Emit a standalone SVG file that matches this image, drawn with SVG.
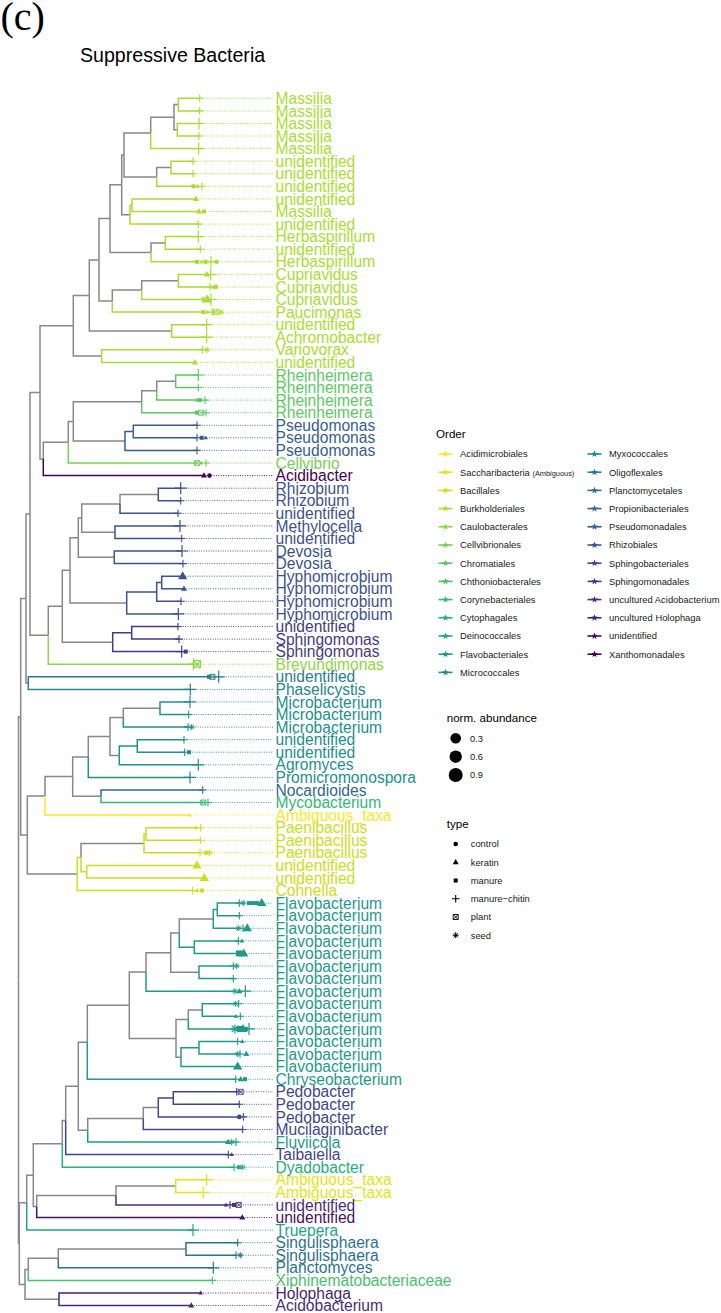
<svg xmlns="http://www.w3.org/2000/svg" xmlns:xlink="http://www.w3.org/1999/xlink" width="721" height="1313" viewBox="0 0 721 1313">
<style>
text{font-family:"Liberation Sans",Arial,sans-serif}
.l{font-size:15.6px;fill:currentColor}
.e{fill:none;stroke:currentColor;stroke-width:1.5}
.d{fill:none;stroke:currentColor;stroke-width:0.9;stroke-dasharray:1 1.4}
.lg{font-size:9.4px;fill:#1a1a1a}
.lt{font-size:11.6px;fill:#000}
.gr{color:#888888}
.acid{color:#FDE725}.sacc{color:#E3E418}.baci{color:#C7E020}.burk{color:#AADC32}.caul{color:#8FD744}.cellv{color:#75D054}.chrom{color:#5DC863}.chth{color:#47C16E}.cory{color:#35B779}.cyto{color:#27AD81}.dein{color:#20A486}.flavo{color:#1F9A8A}.micro{color:#21908C}.myxo{color:#24868E}.olig{color:#287C8E}.planc{color:#2C728E}.prop{color:#31688E}.pseu{color:#365D8D}.rhiz{color:#3B528B}.sphb{color:#404688}.sphm{color:#443A83}.uacid{color:#472D7B}.uholo{color:#481F70}.unid{color:#471164}.xan{color:#440154}
</style>
<defs>
<path id="p" d="M-3.8 0H3.8M0-3.8V3.8" fill="none" stroke="currentColor" stroke-width="1.1"/>
<path id="P" d="M-6 0H6M0-6V6" fill="none" stroke="currentColor" stroke-width="1.2"/>
<path id="t" d="M0-3.3L3 2H-3Z" fill="currentColor"/>
<path id="T" d="M0-5L4.6 3H-4.6Z" fill="currentColor"/>
<path id="u" d="M0-2.4L2.2 1.5H-2.2Z" fill="currentColor"/>
<rect id="s" x="-2" y="-2" width="4" height="4" fill="currentColor"/>
<rect id="S" x="-3" y="-3" width="6" height="6" fill="currentColor"/>
<circle id="c" r="2.3" fill="currentColor"/>
<path id="x" d="M-2.5-2.5h5v5h-5zM-2.5-2.5l5 5M2.5-2.5l-5 5" fill="none" stroke="currentColor" stroke-width="0.9"/>
<path id="X" d="M-3.6-3.6h7.2v7.2h-7.2zM-3.6-3.6l7.2 7.2M3.6-3.6l-7.2 7.2" fill="none" stroke="currentColor" stroke-width="1.1"/>
<path id="a" d="M-3 0H3M0-3V3M-2.1-2.1L2.1 2.1M-2.1 2.1L2.1-2.1" fill="none" stroke="currentColor" stroke-width="1"/>
<path id="A" d="M-4.5 0H4.5M0-4.5V4.5M-3.2-3.2L3.2 3.2M-3.2 3.2L3.2-3.2" fill="none" stroke="currentColor" stroke-width="1.2"/>
<g id="k"><path d="M-7 0H7" stroke="currentColor" stroke-width="1.6"/><path d="M0-3.6L.88-1.21 3.42-1.11 1.43.46 2.12 2.91 0 1.5-2.12 2.91-1.43.46-3.42-1.11-.88-1.21Z" fill="currentColor"/></g>
</defs>
<rect width="721" height="1313" fill="#fff"/>
<text x="0.5" y="30" style="font-family:'Liberation Serif','Times New Roman',serif;font-size:40px" fill="#000">(c)</text>
<text x="80" y="62" style="font-size:19.6px" fill="#000">Suppressive Bacteria</text>

<g id="connectors">
<g id="edges">
<path class="e gr" d="M18.5 980.2V716.8H20.7"/>
<path class="e gr" d="M18.5 980.2V1243.5H19.3"/>
<path class="e gr" d="M19.3 1243.5V1202.7H26.7"/>
<path class="e gr" d="M19.3 1243.5V1284.4H25"/>
<path class="e gr" d="M20.7 716.8V598.5H26"/>
<path class="e gr" d="M20.7 716.8V835H27.3"/>
<path class="e gr" d="M26 598.5V513.9H30"/>
<path class="e gr" d="M26 598.5V683.1H28.3"/>
<path class="e gr" d="M30 513.9V392.4H40"/>
<path class="e gr" d="M30 513.9V635.3H48.3"/>
<path class="e gr" d="M40 392.4V325.8H73.3"/>
<path class="e gr" d="M40 392.4V458.9H43.3"/>
<path class="e gr" d="M73.3 325.8V295.4H89.3"/>
<path class="e gr" d="M73.3 325.8V356.1H101.7"/>
<path class="e gr" d="M89.3 295.4V259.9H99"/>
<path class="e gr" d="M89.3 295.4V331H171.7"/>
<path class="e gr" d="M99 259.9V218.6H110"/>
<path class="e gr" d="M99 259.9V301.1H112.3"/>
<path class="e gr" d="M110 218.6V184.8H121.7"/>
<path class="e gr" d="M110 218.6V252.4H151"/>
<path class="e gr" d="M121.7 184.8V154.9H124"/>
<path class="e gr" d="M121.7 184.8V214.7H130"/>
<path class="e gr" d="M124 154.9V132.9H150.7"/>
<path class="e gr" d="M124 154.9V176.9H156.7"/>
<path class="e gr" d="M150.7 132.9V117.2H174"/>
<path class="e burk" d="M150.7 132.9V148.6H198.7"/>
<path class="e gr" d="M174 117.2V104.6H178.3"/>
<path class="e gr" d="M174 117.2V129.75H177.3"/>
<path class="e burk" d="M178.3 104.6V98.3H199.7"/>
<path class="e burk" d="M178.3 104.6V110.9H199.7"/>
<path class="e burk" d="M177.3 129.75V123.5H199"/>
<path class="e burk" d="M177.3 129.75V136H199"/>
<path class="e gr" d="M156.7 176.9V167.5H171"/>
<path class="e burk" d="M156.7 176.9V186.3H193.5"/>
<path class="e burk" d="M171 167.5V161.2H193"/>
<path class="e burk" d="M171 167.5V173.8H193"/>
<path class="e burk" d="M130 214.7V205.2H132"/>
<path class="e burk" d="M130 214.7V224.1H198.3"/>
<path class="e burk" d="M132 205.2V198.9H196"/>
<path class="e burk" d="M132 205.2V211.5H199"/>
<path class="e gr" d="M151 252.4V242.9H165.3"/>
<path class="e burk" d="M151 252.4V261.8H197"/>
<path class="e burk" d="M165.3 242.9V236.6H198.3"/>
<path class="e burk" d="M165.3 242.9V249.2H200.3"/>
<path class="e gr" d="M112.3 301.1V290.1H141.7"/>
<path class="e burk" d="M112.3 301.1V312.1H203.3"/>
<path class="e gr" d="M141.7 290.1V280.65H178.3"/>
<path class="e burk" d="M141.7 290.1V299.5H203.5"/>
<path class="e burk" d="M178.3 280.65V274.4H207"/>
<path class="e burk" d="M178.3 280.65V286.9H210"/>
<path class="e burk" d="M171.7 331V324.7H206.7"/>
<path class="e burk" d="M171.7 331V337.2H206.7"/>
<path class="e burk" d="M101.7 356.1V349.8H202.3"/>
<path class="e burk" d="M101.7 356.1V362.4H195"/>
<path class="e gr" d="M43.3 458.9V442.2H68.3"/>
<path class="e xan" d="M43.3 458.9V475.6H204"/>
<path class="e gr" d="M68.3 442.2V421.4H73.3"/>
<path class="e cellv" d="M68.3 442.2V463H197"/>
<path class="e gr" d="M73.3 421.4V401.7H141.7"/>
<path class="e gr" d="M73.3 421.4V441.1H125"/>
<path class="e gr" d="M141.7 401.7V390.7H156.7"/>
<path class="e chrom" d="M141.7 401.7V412.7H197"/>
<path class="e gr" d="M156.7 390.7V381.25H175.7"/>
<path class="e chrom" d="M156.7 390.7V400.1H196.7"/>
<path class="e chrom" d="M175.7 381.25V375H198.3"/>
<path class="e chrom" d="M175.7 381.25V387.5H198.3"/>
<path class="e pseu" d="M125 441.1V431.55H133.3"/>
<path class="e pseu" d="M125 441.1V450.4H197"/>
<path class="e pseu" d="M133.3 431.55V425.3H197"/>
<path class="e pseu" d="M133.3 431.55V437.8H197"/>
<path class="e gr" d="M48.3 635.3V606.3H62.3"/>
<path class="e caul" d="M48.3 635.3V664.2H193.5"/>
<path class="e gr" d="M62.3 606.3V570.3H70"/>
<path class="e gr" d="M62.3 606.3V642.2H112.7"/>
<path class="e gr" d="M70 570.3V537.7H78.3"/>
<path class="e gr" d="M70 570.3V602.9H126.7"/>
<path class="e gr" d="M78.3 537.7V518.1H81.7"/>
<path class="e gr" d="M78.3 537.7V557.3H114.3"/>
<path class="e gr" d="M81.7 518.1V503.9H120"/>
<path class="e gr" d="M81.7 518.1V532.2H115"/>
<path class="e gr" d="M120 503.9V494.45H158.3"/>
<path class="e rhiz" d="M120 503.9V513.3H178"/>
<path class="e rhiz" d="M158.3 494.45V488.2H180.7"/>
<path class="e rhiz" d="M158.3 494.45V500.7H180.7"/>
<path class="e rhiz" d="M115 532.2V525.9H180"/>
<path class="e rhiz" d="M115 532.2V538.5H181.7"/>
<path class="e rhiz" d="M114.3 557.3V551H182"/>
<path class="e rhiz" d="M114.3 557.3V563.6H183"/>
<path class="e rhiz" d="M126.7 602.9V591.9H156.7"/>
<path class="e rhiz" d="M126.7 602.9V613.9H178.3"/>
<path class="e rhiz" d="M156.7 591.9V582.5H161.7"/>
<path class="e rhiz" d="M156.7 591.9V601.3H181"/>
<path class="e rhiz" d="M161.7 582.5V576.2H182.7"/>
<path class="e rhiz" d="M161.7 582.5V588.8H184"/>
<path class="e sphm" d="M112.7 642.2V632.8H131.7"/>
<path class="e sphm" d="M112.7 642.2V651.6H181.7"/>
<path class="e sphm" d="M131.7 632.8V626.5H178"/>
<path class="e sphm" d="M131.7 632.8V639.1H179"/>
<path class="e olig" d="M28.3 683.1V676.8H209"/>
<path class="e myxo" d="M28.3 683.1V689.4H190.3"/>
<path class="e gr" d="M27.3 835V795.9H45"/>
<path class="e gr" d="M27.3 835V874.1H77.3"/>
<path class="e gr" d="M45 795.9V776.6H72.7"/>
<path class="e acid" d="M45 795.9V815.1H190"/>
<path class="e gr" d="M72.7 776.6V757H88.3"/>
<path class="e gr" d="M72.7 776.6V796.25H101"/>
<path class="e gr" d="M88.3 757V736.6H110"/>
<path class="e micro" d="M88.3 757V777.4H190"/>
<path class="e gr" d="M110 736.6V717.6H123.3"/>
<path class="e gr" d="M110 736.6V755.4H119.3"/>
<path class="e gr" d="M123.3 717.6V708.2H160"/>
<path class="e micro" d="M123.3 717.6V727.1H188"/>
<path class="e micro" d="M160 708.2V701.9H190"/>
<path class="e micro" d="M160 708.2V714.5H188.7"/>
<path class="e micro" d="M119.3 755.4V745.95H137.3"/>
<path class="e micro" d="M119.3 755.4V764.8H198.3"/>
<path class="e micro" d="M137.3 745.95V739.7H184"/>
<path class="e micro" d="M137.3 745.95V752.2H184.7"/>
<path class="e prop" d="M101 796.25V790H202.7"/>
<path class="e cory" d="M101 796.25V802.5H203.3"/>
<path class="e baci" d="M77.3 874.1V857.55H81"/>
<path class="e baci" d="M77.3 874.1V890.6H192.7"/>
<path class="e gr" d="M81 857.55V843.4H144"/>
<path class="e baci" d="M81 857.55V871.7H86.7"/>
<path class="e baci" d="M144 843.4V834H146"/>
<path class="e baci" d="M144 843.4V852.8H200"/>
<path class="e baci" d="M146 834V827.7H196"/>
<path class="e baci" d="M146 834V840.3H200.3"/>
<path class="e baci" d="M86.7 871.7V865.4H197"/>
<path class="e baci" d="M86.7 871.7V878H204.3"/>
<path class="e gr" d="M26.7 1202.7V1175.2H33.3"/>
<path class="e dein" d="M26.7 1202.7V1230.1H193"/>
<path class="e gr" d="M33.3 1175.2V1143.8H62.3"/>
<path class="e gr" d="M33.3 1175.2V1206.5H36.7"/>
<path class="e gr" d="M36.7 1206.5V1195.5H116"/>
<path class="e unid" d="M36.7 1206.5V1217.5H242.3"/>
<path class="e gr" d="M116 1195.5V1186.1H175.7"/>
<path class="e uacid" d="M116 1195.5V1204.9H226"/>
<path class="e sacc" d="M175.7 1186.1V1179.8H206.7"/>
<path class="e sacc" d="M175.7 1186.1V1192.4H203.3"/>
<path class="e gr" d="M62.3 1143.8V1120.5H65.7"/>
<path class="e cyto" d="M62.3 1143.8V1167.2H234"/>
<path class="e gr" d="M65.7 1120.5V1086.3H78.3"/>
<path class="e sphb" d="M65.7 1120.5V1154.6H228.3"/>
<path class="e gr" d="M78.3 1086.3V1042.2H87.3"/>
<path class="e gr" d="M78.3 1086.3V1130.3H87.7"/>
<path class="e gr" d="M87.3 1042.2V1005.2H129.3"/>
<path class="e flavo" d="M87.3 1042.2V1079.2H235.7"/>
<path class="e gr" d="M129.3 1005.2V972H146"/>
<path class="e gr" d="M129.3 1005.2V1038.4H176"/>
<path class="e gr" d="M146 972V952.7H170.7"/>
<path class="e flavo" d="M146 972V991.2H235"/>
<path class="e gr" d="M170.7 952.7V933H179.3"/>
<path class="e gr" d="M170.7 952.7V972.3H199"/>
<path class="e gr" d="M179.3 933V918.9H213.3"/>
<path class="e flavo" d="M179.3 933V947.15H194.3"/>
<path class="e flavo" d="M213.3 918.9V909.4H217.3"/>
<path class="e flavo" d="M213.3 918.9V928.3H238.7"/>
<path class="e flavo" d="M217.3 909.4V903.1H239.3"/>
<path class="e flavo" d="M217.3 909.4V915.7H239.3"/>
<path class="e flavo" d="M194.3 947.15V940.9H238.3"/>
<path class="e flavo" d="M194.3 947.15V953.4H239"/>
<path class="e flavo" d="M199 972.3V966H233.3"/>
<path class="e flavo" d="M199 972.3V978.6H233.3"/>
<path class="e gr" d="M176 1038.4V1019.5H188.3"/>
<path class="e gr" d="M176 1038.4V1057.2H181"/>
<path class="e gr" d="M188.3 1019.5V1010H202.3"/>
<path class="e flavo" d="M188.3 1019.5V1028.9H235"/>
<path class="e flavo" d="M202.3 1010V1003.7H235.7"/>
<path class="e flavo" d="M202.3 1010V1016.3H236"/>
<path class="e flavo" d="M181 1057.2V1047.75H199"/>
<path class="e flavo" d="M181 1057.2V1066.6H237.7"/>
<path class="e flavo" d="M199 1047.75V1041.5H237.7"/>
<path class="e flavo" d="M199 1047.75V1054H237.7"/>
<path class="e gr" d="M87.7 1130.3V1118.5H143.3"/>
<path class="e flavo" d="M87.7 1130.3V1142.1H228"/>
<path class="e gr" d="M143.3 1118.5V1107.5H158.3"/>
<path class="e sphb" d="M143.3 1118.5V1129.5H242.7"/>
<path class="e sphb" d="M158.3 1107.5V1098.05H173.3"/>
<path class="e sphb" d="M158.3 1107.5V1116.9H239.3"/>
<path class="e sphb" d="M173.3 1098.05V1091.8H236.7"/>
<path class="e sphb" d="M173.3 1098.05V1104.3H239.3"/>
<path class="e gr" d="M25 1284.4V1269.4H28.3"/>
<path class="e gr" d="M25 1284.4V1299.25H59"/>
<path class="e gr" d="M28.3 1269.4V1258.3H58.3"/>
<path class="e chth" d="M28.3 1269.4V1280.4H212.3"/>
<path class="e gr" d="M58.3 1258.3V1248.95H186"/>
<path class="e planc" d="M58.3 1258.3V1267.8H213.3"/>
<path class="e planc" d="M186 1248.95V1242.7H237.7"/>
<path class="e planc" d="M186 1248.95V1255.2H236"/>
<path class="e uholo" d="M59 1299.25V1293H200.7"/>
<path class="e uacid" d="M59 1299.25V1305.5H191.3"/>
</g>
<g id="leaders">
<path class="d burk" d="M199.7 98.3H273M199.7 110.9H273M199 123.5H273M199 136H273M198.7 148.6H273M193 161.2H273M193 173.8H273M193.5 186.3H273M196 198.9H273M199 211.5H273M198.3 224.1H273M198.3 236.6H273M200.3 249.2H273M197 261.8H273M207 274.4H273M210 286.9H273M203.5 299.5H273M203.3 312.1H273M206.7 324.7H273M206.7 337.2H273M202.3 349.8H273M195 362.4H273"/>
<path class="d chrom" d="M198.3 375H273M198.3 387.5H273M196.7 400.1H273M197 412.7H273"/>
<path class="d pseu" d="M197 425.3H273M197 437.8H273M197 450.4H273"/>
<path class="d cellv" d="M197 463H273"/>
<path class="d xan" d="M204 475.6H273"/>
<path class="d rhiz" d="M180.7 488.2H273M180.7 500.7H273M178 513.3H273M180 525.9H273M181.7 538.5H273M182 551H273M183 563.6H273M182.7 576.2H273M184 588.8H273M181 601.3H273M178.3 613.9H273"/>
<path class="d sphm" d="M178 626.5H273M179 639.1H273M181.7 651.6H273"/>
<path class="d caul" d="M193.5 664.2H273"/>
<path class="d olig" d="M209 676.8H273"/>
<path class="d myxo" d="M190.3 689.4H273"/>
<path class="d micro" d="M190 701.9H273M188.7 714.5H273M188 727.1H273M184 739.7H273M184.7 752.2H273M198.3 764.8H273M190 777.4H273"/>
<path class="d prop" d="M202.7 790H273"/>
<path class="d cory" d="M203.3 802.5H273"/>
<path class="d acid" d="M190 815.1H273"/>
<path class="d baci" d="M196 827.7H273M200.3 840.3H273M200 852.8H273M197 865.4H273M204.3 878H273M192.7 890.6H273"/>
<path class="d flavo" d="M239.3 903.1H273M239.3 915.7H273M238.7 928.3H273M238.3 940.9H273M239 953.4H273M233.3 966H273M233.3 978.6H273M235 991.2H273M235.7 1003.7H273M236 1016.3H273M235 1028.9H273M237.7 1041.5H273M237.7 1054H273M237.7 1066.6H273M235.7 1079.2H273M228 1142.1H273"/>
<path class="d sphb" d="M236.7 1091.8H273M239.3 1104.3H273M239.3 1116.9H273M242.7 1129.5H273M228.3 1154.6H273"/>
<path class="d cyto" d="M234 1167.2H273"/>
<path class="d sacc" d="M206.7 1179.8H273M203.3 1192.4H273"/>
<path class="d uacid" d="M226 1204.9H273M191.3 1305.5H273"/>
<path class="d unid" d="M242.3 1217.5H273"/>
<path class="d dein" d="M193 1230.1H273"/>
<path class="d planc" d="M237.7 1242.7H273M236 1255.2H273M213.3 1267.8H273"/>
<path class="d chth" d="M212.3 1280.4H273"/>
<path class="d uholo" d="M200.7 1293H273"/>
</g>
</g>

<g id="tips">
<g id="tip1" class="burk"><use href="#p" x="199.7" y="98.3"/><text class="l" x="275.5" y="103.9">Massilia</text></g>
<g id="tip2" class="burk"><use href="#p" x="199.7" y="110.9"/><text class="l" x="275.5" y="116.5">Massilia</text></g>
<g id="tip3" class="burk"><use href="#P" x="199" y="123.5"/><text class="l" x="275.5" y="129.1">Massilia</text></g>
<g id="tip4" class="burk"><use href="#p" x="199" y="136"/><text class="l" x="275.5" y="141.6">Massilia</text></g>
<g id="tip5" class="burk"><use href="#P" x="198.7" y="148.6"/><text class="l" x="275.5" y="154.2">Massilia</text></g>
<g id="tip6" class="burk"><use href="#p" x="193" y="161.2"/><text class="l" x="275.5" y="166.8">unidentified</text></g>
<g id="tip7" class="burk"><use href="#p" x="193" y="173.8"/><text class="l" x="275.5" y="179.4">unidentified</text></g>
<g id="tip8" class="burk"><use href="#s" x="193.5" y="186.3"/><use href="#u" x="197.5" y="186.3"/><use href="#p" x="202" y="186.3"/><text class="l" x="275.5" y="191.9">unidentified</text></g>
<g id="tip9" class="burk"><use href="#t" x="196" y="198.9"/><text class="l" x="275.5" y="204.5">unidentified</text></g>
<g id="tip10" class="burk"><use href="#t" x="199" y="211.5"/><use href="#s" x="204" y="211.5"/><text class="l" x="275.5" y="217.1">Massilia</text></g>
<g id="tip11" class="burk"><use href="#p" x="198.3" y="224.1"/><text class="l" x="275.5" y="229.7">unidentified</text></g>
<g id="tip12" class="burk"><use href="#P" x="198.3" y="236.6"/><text class="l" x="275.5" y="242.2">Herbaspirillum</text></g>
<g id="tip13" class="burk"><use href="#p" x="200.3" y="249.2"/><text class="l" x="275.5" y="254.8">unidentified</text></g>
<g id="tip14" class="burk"><use href="#s" x="197" y="261.8"/><use href="#u" x="201.5" y="261.8"/><use href="#s" x="205.5" y="261.8"/><use href="#P" x="211" y="261.8"/><use href="#c" x="216.5" y="261.8"/><text class="l" x="275.5" y="267.4">Herbaspirillum</text></g>
<g id="tip15" class="burk"><use href="#t" x="207" y="274.4"/><use href="#P" x="210.7" y="274.4"/><text class="l" x="275.5" y="280">Cupriavidus</text></g>
<g id="tip16" class="burk"><use href="#p" x="210" y="286.9"/><use href="#u" x="213" y="286.9"/><use href="#c" x="216" y="286.9"/><text class="l" x="275.5" y="292.5">Cupriavidus</text></g>
<g id="tip17" class="burk"><use href="#a" x="203.5" y="299.5"/><use href="#T" x="207.5" y="299.5"/><use href="#P" x="211" y="299.5"/><text class="l" x="275.5" y="305.1">Cupriavidus</text></g>
<g id="tip18" class="burk"><use href="#s" x="203.3" y="312.1"/><use href="#u" x="207" y="312.1"/><use href="#p" x="212.3" y="312.1"/><use href="#x" x="216" y="312.1"/><use href="#a" x="221" y="312.1"/><text class="l" x="275.5" y="317.7">Paucimonas</text></g>
<g id="tip19" class="burk"><use href="#P" x="206.7" y="324.7"/><text class="l" x="275.5" y="330.3">unidentified</text></g>
<g id="tip20" class="burk"><use href="#P" x="206.7" y="337.2"/><text class="l" x="275.5" y="342.8">Achromobacter</text></g>
<g id="tip21" class="burk"><use href="#p" x="202.3" y="349.8"/><use href="#a" x="207" y="349.8"/><text class="l" x="275.5" y="355.4">Variovorax</text></g>
<g id="tip22" class="burk"><use href="#t" x="195" y="362.4"/><text class="l" x="275.5" y="368">unidentified</text></g>
<g id="tip23" class="chrom"><use href="#P" x="198.3" y="375"/><text class="l" x="275.5" y="380.6">Rheinheimera</text></g>
<g id="tip24" class="chrom"><use href="#p" x="198.3" y="387.5"/><text class="l" x="275.5" y="393.1">Rheinheimera</text></g>
<g id="tip25" class="chrom"><use href="#u" x="196.7" y="400.1"/><use href="#s" x="199.8" y="400.1"/><use href="#p" x="205" y="400.1"/><text class="l" x="275.5" y="405.7">Rheinheimera</text></g>
<g id="tip26" class="chrom"><use href="#s" x="197" y="412.7"/><use href="#x" x="201" y="412.7"/><use href="#p" x="206" y="412.7"/><text class="l" x="275.5" y="418.3">Rheinheimera</text></g>
<g id="tip27" class="pseu"><use href="#p" x="197" y="425.3"/><text class="l" x="275.5" y="430.9">Pseudomonas</text></g>
<g id="tip28" class="pseu"><use href="#p" x="197" y="437.8"/><use href="#s" x="201.7" y="437.8"/><use href="#u" x="205.7" y="437.8"/><text class="l" x="275.5" y="443.4">Pseudomonas</text></g>
<g id="tip29" class="pseu"><use href="#p" x="197" y="450.4"/><text class="l" x="275.5" y="456">Pseudomonas</text></g>
<g id="tip30" class="cellv"><use href="#x" x="197" y="463"/><use href="#u" x="201" y="463"/><use href="#p" x="206" y="463"/><text class="l" x="275.5" y="468.6">Cellvibrio</text></g>
<g id="tip31" class="xan"><use href="#t" x="204" y="475.6"/><use href="#c" x="209.5" y="475.6"/><text class="l" x="275.5" y="481.2">Acidibacter</text></g>
<g id="tip32" class="rhiz"><use href="#P" x="180.7" y="488.2"/><text class="l" x="275.5" y="493.8">Rhizobium</text></g>
<g id="tip33" class="rhiz"><use href="#p" x="180.7" y="500.7"/><text class="l" x="275.5" y="506.3">Rhizobium</text></g>
<g id="tip34" class="rhiz"><use href="#p" x="178" y="513.3"/><text class="l" x="275.5" y="518.9">unidentified</text></g>
<g id="tip35" class="rhiz"><use href="#P" x="180" y="525.9"/><text class="l" x="275.5" y="531.5">Methylocella</text></g>
<g id="tip36" class="rhiz"><use href="#p" x="181.7" y="538.5"/><text class="l" x="275.5" y="544.1">unidentified</text></g>
<g id="tip37" class="rhiz"><use href="#P" x="182" y="551"/><text class="l" x="275.5" y="556.6">Devosia</text></g>
<g id="tip38" class="rhiz"><use href="#p" x="183" y="563.6"/><text class="l" x="275.5" y="569.2">Devosia</text></g>
<g id="tip39" class="rhiz"><use href="#T" x="182.7" y="576.2"/><text class="l" x="275.5" y="581.8">Hyphomicrobium</text></g>
<g id="tip40" class="rhiz"><use href="#t" x="184" y="588.8"/><text class="l" x="275.5" y="594.4">Hyphomicrobium</text></g>
<g id="tip41" class="rhiz"><use href="#p" x="181" y="601.3"/><text class="l" x="275.5" y="606.9">Hyphomicrobium</text></g>
<g id="tip42" class="rhiz"><use href="#P" x="178.3" y="613.9"/><text class="l" x="275.5" y="619.5">Hyphomicrobium</text></g>
<g id="tip43" class="sphm"><use href="#p" x="178" y="626.5"/><text class="l" x="275.5" y="632.1">unidentified</text></g>
<g id="tip44" class="sphm"><use href="#p" x="179" y="639.1"/><text class="l" x="275.5" y="644.7">Sphingomonas</text></g>
<g id="tip45" class="sphm"><use href="#P" x="181.7" y="651.6"/><use href="#s" x="185.7" y="651.6"/><text class="l" x="275.5" y="657.2">Sphingomonas</text></g>
<g id="tip46" class="caul"><use href="#P" x="193.5" y="664.2"/><use href="#X" x="197" y="664.2"/><text class="l" x="275.5" y="669.8">Brevundimonas</text></g>
<g id="tip47" class="olig"><use href="#s" x="209" y="676.8"/><use href="#x" x="212.5" y="676.8"/><use href="#P" x="218.7" y="676.8"/><text class="l" x="275.5" y="682.4">unidentified</text></g>
<g id="tip48" class="myxo"><use href="#P" x="190.3" y="689.4"/><text class="l" x="275.5" y="695">Phaselicystis</text></g>
<g id="tip49" class="micro"><use href="#P" x="190" y="701.9"/><text class="l" x="275.5" y="707.5">Microbacterium</text></g>
<g id="tip50" class="micro"><use href="#p" x="188.7" y="714.5"/><text class="l" x="275.5" y="720.1">Microbacterium</text></g>
<g id="tip51" class="micro"><use href="#p" x="188" y="727.1"/><use href="#a" x="191.7" y="727.1"/><text class="l" x="275.5" y="732.7">Microbacterium</text></g>
<g id="tip52" class="micro"><use href="#p" x="184" y="739.7"/><text class="l" x="275.5" y="745.3">unidentified</text></g>
<g id="tip53" class="micro"><use href="#p" x="184.7" y="752.2"/><use href="#s" x="189" y="752.2"/><text class="l" x="275.5" y="757.8">unidentified</text></g>
<g id="tip54" class="micro"><use href="#P" x="198.3" y="764.8"/><text class="l" x="275.5" y="770.4">Agromyces</text></g>
<g id="tip55" class="micro"><use href="#P" x="190" y="777.4"/><text class="l" x="275.5" y="783">Promicromonospora</text></g>
<g id="tip56" class="prop"><use href="#p" x="202.7" y="790"/><text class="l" x="275.5" y="795.6">Nocardioides</text></g>
<g id="tip57" class="cory"><use href="#x" x="203.3" y="802.5"/><use href="#p" x="208" y="802.5"/><text class="l" x="275.5" y="808.1">Mycobacterium</text></g>
<g id="tip58" class="acid"><use href="#u" x="190" y="815.1"/><text class="l" x="275.5" y="820.7">Ambiguous_taxa</text></g>
<g id="tip59" class="baci"><use href="#u" x="196" y="827.7"/><use href="#p" x="200.7" y="827.7"/><text class="l" x="275.5" y="833.3">Paenibacillus</text></g>
<g id="tip60" class="baci"><use href="#p" x="200.3" y="840.3"/><text class="l" x="275.5" y="845.9">Paenibacillus</text></g>
<g id="tip61" class="baci"><use href="#p" x="200" y="852.8"/><use href="#c" x="206" y="852.8"/><use href="#a" x="209.5" y="852.8"/><text class="l" x="275.5" y="858.4">Paenibacillus</text></g>
<g id="tip62" class="baci"><use href="#T" x="197" y="865.4"/><text class="l" x="275.5" y="871">unidentified</text></g>
<g id="tip63" class="baci"><use href="#T" x="204.3" y="878"/><text class="l" x="275.5" y="883.6">unidentified</text></g>
<g id="tip64" class="baci"><use href="#p" x="192.7" y="890.6"/><use href="#u" x="197.3" y="890.6"/><use href="#c" x="202" y="890.6"/><text class="l" x="275.5" y="896.2">Cohnella</text></g>
<g id="tip65" class="flavo"><use href="#p" x="239.3" y="903.1"/><use href="#a" x="243.3" y="903.1"/><use href="#s" x="249" y="903.1"/><use href="#s" x="253" y="903.1"/><use href="#s" x="257" y="903.1"/><use href="#T" x="261.7" y="903.1"/><text class="l" x="275.5" y="908.7">Flavobacterium</text></g>
<g id="tip66" class="flavo"><use href="#p" x="239.3" y="915.7"/><text class="l" x="275.5" y="921.3">Flavobacterium</text></g>
<g id="tip67" class="flavo"><use href="#a" x="238.7" y="928.3"/><use href="#p" x="243" y="928.3"/><use href="#T" x="247.3" y="928.3"/><text class="l" x="275.5" y="933.9">Flavobacterium</text></g>
<g id="tip68" class="flavo"><use href="#p" x="238.3" y="940.9"/><use href="#u" x="242" y="940.9"/><text class="l" x="275.5" y="946.5">Flavobacterium</text></g>
<g id="tip69" class="flavo"><use href="#S" x="239" y="953.4"/><use href="#T" x="243.7" y="953.4"/><text class="l" x="275.5" y="959">Flavobacterium</text></g>
<g id="tip70" class="flavo"><use href="#p" x="233.3" y="966"/><use href="#a" x="236.7" y="966"/><text class="l" x="275.5" y="971.6">Flavobacterium</text></g>
<g id="tip71" class="flavo"><use href="#p" x="233.3" y="978.6"/><text class="l" x="275.5" y="984.2">Flavobacterium</text></g>
<g id="tip72" class="flavo"><use href="#a" x="235" y="991.2"/><use href="#t" x="239.3" y="991.2"/><use href="#P" x="245.3" y="991.2"/><text class="l" x="275.5" y="996.8">Flavobacterium</text></g>
<g id="tip73" class="flavo"><use href="#a" x="235.7" y="1003.7"/><use href="#p" x="238.7" y="1003.7"/><text class="l" x="275.5" y="1009.3">Flavobacterium</text></g>
<g id="tip74" class="flavo"><use href="#u" x="236" y="1016.3"/><use href="#p" x="240.3" y="1016.3"/><text class="l" x="275.5" y="1021.9">Flavobacterium</text></g>
<g id="tip75" class="flavo"><use href="#A" x="235" y="1028.9"/><use href="#S" x="240" y="1028.9"/><use href="#T" x="243" y="1028.9"/><use href="#s" x="246" y="1028.9"/><use href="#P" x="249" y="1028.9"/><text class="l" x="275.5" y="1034.5">Flavobacterium</text></g>
<g id="tip76" class="flavo"><use href="#p" x="237.7" y="1041.5"/><use href="#u" x="242.3" y="1041.5"/><text class="l" x="275.5" y="1047.1">Flavobacterium</text></g>
<g id="tip77" class="flavo"><use href="#a" x="237.7" y="1054"/><use href="#p" x="240" y="1054"/><use href="#t" x="246.3" y="1054"/><text class="l" x="275.5" y="1059.6">Flavobacterium</text></g>
<g id="tip78" class="flavo"><use href="#T" x="237.7" y="1066.6"/><text class="l" x="275.5" y="1072.2">Flavobacterium</text></g>
<g id="tip79" class="flavo"><use href="#p" x="235.7" y="1079.2"/><use href="#t" x="240.7" y="1079.2"/><use href="#s" x="245" y="1079.2"/><text class="l" x="275.5" y="1084.8">Chryseobacterium</text></g>
<g id="tip80" class="sphb"><use href="#p" x="236.7" y="1091.8"/><use href="#x" x="240.7" y="1091.8"/><text class="l" x="275.5" y="1097.4">Pedobacter</text></g>
<g id="tip81" class="sphb"><use href="#p" x="239.3" y="1104.3"/><text class="l" x="275.5" y="1109.9">Pedobacter</text></g>
<g id="tip82" class="sphb"><use href="#c" x="239.3" y="1116.9"/><use href="#p" x="243.3" y="1116.9"/><text class="l" x="275.5" y="1122.5">Pedobacter</text></g>
<g id="tip83" class="sphb"><use href="#p" x="242.7" y="1129.5"/><text class="l" x="275.5" y="1135.1">Mucilaginibacter</text></g>
<g id="tip84" class="flavo"><use href="#t" x="228" y="1142.1"/><use href="#a" x="231.7" y="1142.1"/><use href="#p" x="236" y="1142.1"/><text class="l" x="275.5" y="1147.7">Fluviicola</text></g>
<g id="tip85" class="sphb"><use href="#p" x="228.3" y="1154.6"/><use href="#u" x="231.7" y="1154.6"/><text class="l" x="275.5" y="1160.2">Taibaiella</text></g>
<g id="tip86" class="cyto"><use href="#p" x="234" y="1167.2"/><use href="#s" x="239" y="1167.2"/><use href="#a" x="242.7" y="1167.2"/><text class="l" x="275.5" y="1172.8">Dyadobacter</text></g>
<g id="tip87" class="sacc"><use href="#P" x="206.7" y="1179.8"/><text class="l" x="275.5" y="1185.4">Ambiguous_taxa</text></g>
<g id="tip88" class="sacc"><use href="#P" x="203.3" y="1192.4"/><text class="l" x="275.5" y="1198">Ambiguous_taxa</text></g>
<g id="tip89" class="uacid"><use href="#u" x="226" y="1204.9"/><use href="#p" x="230" y="1204.9"/><use href="#s" x="234" y="1204.9"/><use href="#x" x="238.7" y="1204.9"/><text class="l" x="275.5" y="1210.5">unidentified</text></g>
<g id="tip90" class="unid"><use href="#t" x="242.3" y="1217.5"/><text class="l" x="275.5" y="1223.1">unidentified</text></g>
<g id="tip91" class="dein"><use href="#P" x="193" y="1230.1"/><text class="l" x="275.5" y="1235.7">Truepera</text></g>
<g id="tip92" class="planc"><use href="#p" x="237.7" y="1242.7"/><text class="l" x="275.5" y="1248.3">Singulisphaera</text></g>
<g id="tip93" class="planc"><use href="#p" x="236" y="1255.2"/><use href="#a" x="240.3" y="1255.2"/><text class="l" x="275.5" y="1260.8">Singulisphaera</text></g>
<g id="tip94" class="planc"><use href="#P" x="213.3" y="1267.8"/><text class="l" x="275.5" y="1273.4">Planctomyces</text></g>
<g id="tip95" class="chth"><use href="#p" x="212.3" y="1280.4"/><text class="l" x="275.5" y="1286">Xiphinematobacteriaceae</text></g>
<g id="tip96" class="uholo"><use href="#u" x="200.7" y="1293"/><text class="l" x="275.5" y="1298.6">Holophaga</text></g>
<g id="tip97" class="uacid"><use href="#t" x="191.3" y="1305.5"/><text class="l" x="275.5" y="1311.1">Acidobacterium</text></g>
</g>

<g id="legend-order">
<text class="lt" x="436" y="437.5">Order</text>
<g class="acid"><use href="#k" x="445.5" y="454"/></g><text class="lg" x="460" y="457.4">Acidimicrobiales</text>
<g class="sacc"><use href="#k" x="445.5" y="472.2"/></g><text class="lg" x="460" y="475.6">Saccharibacteria <tspan style="font-size:7.4px">(Ambiguous)</tspan></text>
<g class="baci"><use href="#k" x="445.5" y="490.4"/></g><text class="lg" x="460" y="493.8">Bacillales</text>
<g class="burk"><use href="#k" x="445.5" y="508.6"/></g><text class="lg" x="460" y="512">Burkholderiales</text>
<g class="caul"><use href="#k" x="445.5" y="526.8"/></g><text class="lg" x="460" y="530.2">Caulobacterales</text>
<g class="cellv"><use href="#k" x="445.5" y="545"/></g><text class="lg" x="460" y="548.4">Cellvibrionales</text>
<g class="chrom"><use href="#k" x="445.5" y="563.2"/></g><text class="lg" x="460" y="566.6">Chromatiales</text>
<g class="chth"><use href="#k" x="445.5" y="581.4"/></g><text class="lg" x="460" y="584.8">Chthoniobacterales</text>
<g class="cory"><use href="#k" x="445.5" y="599.6"/></g><text class="lg" x="460" y="603">Corynebacteriales</text>
<g class="cyto"><use href="#k" x="445.5" y="617.8"/></g><text class="lg" x="460" y="621.2">Cytophagales</text>
<g class="dein"><use href="#k" x="445.5" y="636"/></g><text class="lg" x="460" y="639.4">Deinococcales</text>
<g class="flavo"><use href="#k" x="445.5" y="654.2"/></g><text class="lg" x="460" y="657.6">Flavobacteriales</text>
<g class="micro"><use href="#k" x="445.5" y="672.4"/></g><text class="lg" x="460" y="675.8">Micrococcales</text>
<g class="myxo"><use href="#k" x="594.5" y="454"/></g><text class="lg" x="609" y="457.4">Myxococcales</text>
<g class="olig"><use href="#k" x="594.5" y="472.2"/></g><text class="lg" x="609" y="475.6">Oligoflexales</text>
<g class="planc"><use href="#k" x="594.5" y="490.4"/></g><text class="lg" x="609" y="493.8">Planctomycetales</text>
<g class="prop"><use href="#k" x="594.5" y="508.6"/></g><text class="lg" x="609" y="512">Propionibacteriales</text>
<g class="pseu"><use href="#k" x="594.5" y="526.8"/></g><text class="lg" x="609" y="530.2">Pseudomonadales</text>
<g class="rhiz"><use href="#k" x="594.5" y="545"/></g><text class="lg" x="609" y="548.4">Rhizobiales</text>
<g class="sphb"><use href="#k" x="594.5" y="563.2"/></g><text class="lg" x="609" y="566.6">Sphingobacteriales</text>
<g class="sphm"><use href="#k" x="594.5" y="581.4"/></g><text class="lg" x="609" y="584.8">Sphingomonadales</text>
<g class="uacid"><use href="#k" x="594.5" y="599.6"/></g><text class="lg" x="609" y="603">uncultured Acidobacterium</text>
<g class="uholo"><use href="#k" x="594.5" y="617.8"/></g><text class="lg" x="609" y="621.2">uncultured Holophaga</text>
<g class="unid"><use href="#k" x="594.5" y="636"/></g><text class="lg" x="609" y="639.4">unidentified</text>
<g class="xan"><use href="#k" x="594.5" y="654.2"/></g><text class="lg" x="609" y="657.6">Xanthomonadales</text>
</g>

<g id="legend-abundance">
<text class="lt" x="446.7" y="721.5">norm. abundance</text>
<circle cx="455.7" cy="738.3" r="5.3" fill="#000"/><text class="lg" x="470" y="741.7">0.3</text>
<circle cx="455.7" cy="756.7" r="6.2" fill="#000"/><text class="lg" x="470" y="760.1">0.6</text>
<circle cx="455.7" cy="775" r="7" fill="#000"/><text class="lg" x="470" y="778.4">0.9</text>
</g>

<g id="legend-type" style="color:#000">
<text class="lt" x="446.7" y="828">type</text>
<use href="#c" x="455.7" y="844"/><text class="lg" x="470.7" y="847.4">control</text>
<use href="#t" x="455.7" y="862.3"/><text class="lg" x="470.7" y="865.7">keratin</text>
<use href="#s" x="455.7" y="880.5"/><text class="lg" x="470.7" y="883.9">manure</text>
<use href="#p" x="455.7" y="898.7"/><text class="lg" x="470.7" y="902.1">manure−chitin</text>
<use href="#x" x="455.7" y="917"/><text class="lg" x="470.7" y="920.4">plant</text>
<use href="#a" x="455.7" y="935.3"/><text class="lg" x="470.7" y="938.7">seed</text>
</g>
</svg>
